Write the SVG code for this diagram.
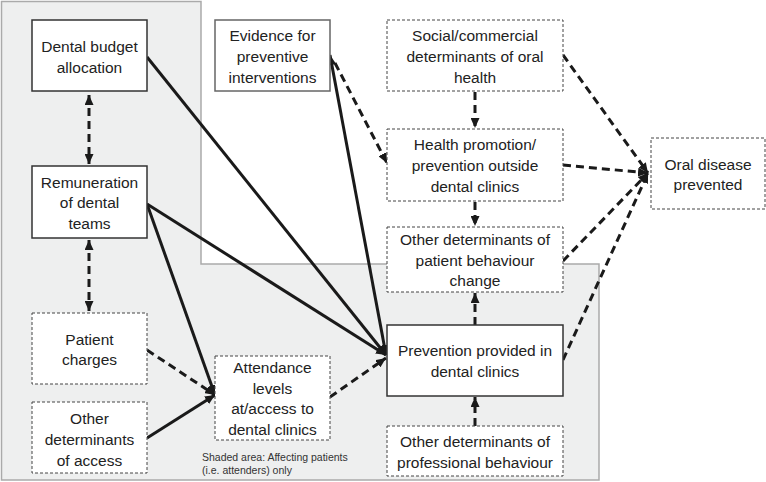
<svg xmlns="http://www.w3.org/2000/svg" width="766" height="482" viewBox="0 0 766 482">
<style>
text{font-family:"Liberation Sans",Arial,sans-serif;font-size:15.5px;fill:#222;text-anchor:middle}
.small{font-size:10.5px;text-anchor:start;fill:#333}
.solid{fill:#fff;stroke:#333;stroke-width:1.5}
.grey{fill:#fff;stroke:#666;stroke-width:1.5}
.dash{fill:#fff;stroke:#444;stroke-width:1;stroke-dasharray:3,2}
.c{fill:none;stroke:#1a1a1a;stroke-width:3}
.d{fill:none;stroke:#1a1a1a;stroke-width:3;stroke-dasharray:8,5}
</style>
<defs>
<marker id="ah" viewBox="0 0 10 9" refX="10" refY="4.5" markerWidth="10" markerHeight="9" markerUnits="userSpaceOnUse" orient="auto-start-reverse">
<path d="M0,0 L10,4.5 L0,9 z" fill="#1a1a1a"/>
</marker>
</defs>
<rect width="766" height="482" fill="#fff"/>
<polygon points="1.5,1.5 201,1.5 201,264 599,264 599,480 1.5,480" fill="#eeefef" stroke="#aaa" stroke-width="1.5"/>
<text class="small" x="202" y="461">Shaded area: Affecting patients</text>
<text class="small" x="202" y="474">(i.e. attenders) only</text>

<g id="connectors">
<line class="d" x1="89" y1="95" x2="89" y2="164" marker-start="url(#ah)" marker-end="url(#ah)"/>
<line class="d" x1="89" y1="240" x2="89" y2="311" marker-start="url(#ah)" marker-end="url(#ah)"/>
<line class="c" x1="147" y1="57" x2="386" y2="355" marker-end="url(#ah)"/>
<line class="c" x1="147" y1="204" x2="386" y2="355" marker-end="url(#ah)"/>
<line class="c" x1="147" y1="204" x2="215" y2="395" marker-end="url(#ah)"/>
<line class="d" x1="147" y1="350" x2="215" y2="395" marker-end="url(#ah)"/>
<line class="c" x1="147" y1="438" x2="215" y2="395" marker-end="url(#ah)"/>
<line class="d" x1="330" y1="397" x2="386" y2="358" marker-end="url(#ah)"/>
<line class="c" x1="330" y1="55" x2="386" y2="355" marker-start="url(#ah)" marker-end="url(#ah)"/>
<line class="d" x1="335" y1="63" x2="387" y2="163" marker-end="url(#ah)"/>
<line class="d" x1="475" y1="92" x2="475" y2="128" marker-end="url(#ah)"/>
<line class="d" x1="475" y1="202" x2="475" y2="226" marker-end="url(#ah)"/>
<line class="d" x1="475" y1="325" x2="475" y2="293" marker-end="url(#ah)"/>
<line class="d" x1="475" y1="426" x2="475" y2="397" marker-end="url(#ah)"/>
<line class="d" x1="563" y1="55" x2="648" y2="173" marker-end="url(#ah)"/>
<line class="d" x1="563" y1="165" x2="648" y2="173" marker-end="url(#ah)"/>
<line class="d" x1="563" y1="261" x2="648" y2="173" marker-end="url(#ah)"/>
<line class="d" x1="563" y1="360" x2="648" y2="173" marker-end="url(#ah)"/>
</g>

<g id="budget"><rect class="solid" x="32" y="20" width="115" height="71"/>
<text x="89.5" y="52">Dental budget</text><text x="89.5" y="73">allocation</text></g>

<g id="remuneration"><rect class="solid" x="32" y="166" width="115" height="72"/>
<text x="89.5" y="188">Remuneration</text><text x="89.5" y="208">of dental</text><text x="89.5" y="229">teams</text></g>

<g id="charges"><rect class="dash" x="32" y="313" width="115" height="71"/>
<text x="89.5" y="345">Patient</text><text x="89.5" y="365">charges</text></g>

<g id="access"><rect class="dash" x="32" y="402" width="115" height="71"/>
<text x="89.5" y="424">Other</text><text x="89.5" y="445">determinants</text><text x="89.5" y="466">of access</text></g>

<g id="evidence"><rect class="grey" x="215" y="20" width="115" height="71"/>
<text x="272.5" y="41">Evidence for</text><text x="272.5" y="62">preventive</text><text x="272.5" y="83">interventions</text></g>

<g id="attendance"><rect class="dash" x="215" y="356" width="115" height="84"/>
<text x="272.5" y="373">Attendance</text><text x="272.5" y="394">levels</text><text x="272.5" y="414">at/access to</text><text x="272.5" y="435">dental clinics</text></g>

<g id="social"><rect class="dash" x="387" y="20" width="176" height="71"/>
<text x="475" y="41">Social/commercial</text><text x="475" y="62">determinants of oral</text><text x="475" y="83">health</text></g>

<g id="promotion"><rect class="dash" x="387" y="129" width="176" height="72"/>
<text x="475" y="150">Health promotion/</text><text x="475" y="171">prevention outside</text><text x="475" y="192">dental clinics</text></g>

<g id="patientbehaviour"><rect class="dash" x="387" y="227" width="176" height="65"/>
<text x="475" y="245">Other determinants of</text><text x="475" y="266">patient behaviour</text><text x="475" y="286">change</text></g>

<g id="prevention"><rect class="solid" x="387" y="325" width="176" height="71"/>
<text x="475" y="356">Prevention provided in</text><text x="475" y="377">dental clinics</text></g>

<g id="professional"><rect class="dash" x="387" y="426" width="176" height="50"/>
<text x="475" y="447">Other determinants of</text><text x="475" y="468">professional behaviour</text></g>

<g id="oraldisease"><rect class="dash" x="651" y="138" width="114" height="71"/>
<text x="708" y="170">Oral disease</text><text x="708" y="190">prevented</text></g>
</svg>
